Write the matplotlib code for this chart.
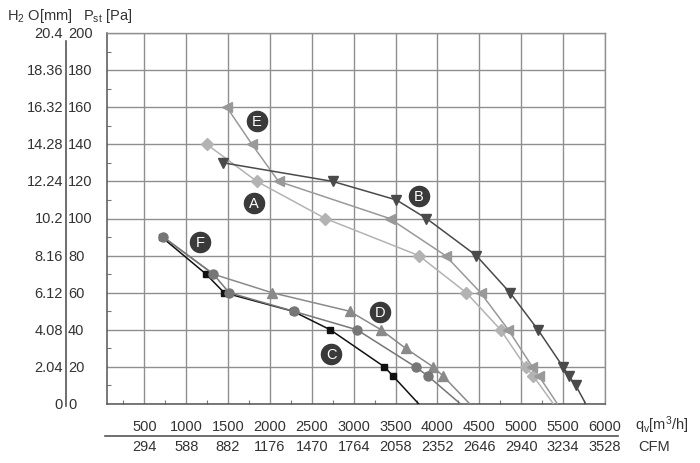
import matplotlib
matplotlib.use("Agg")
import matplotlib.pyplot as plt
from matplotlib.lines import Line2D

plt.rcParams['font.family'] = ['Liberation Sans', 'DejaVu Sans']
plt.rcParams['mathtext.fontset'] = 'custom'
plt.rcParams['mathtext.rm'] = 'Liberation Sans'
plt.rcParams['mathtext.it'] = 'Liberation Sans'

# flow ticks (m3/h) and matching CFM
qv_ticks = [500, 1000, 1500, 2000, 2500, 3000, 3500, 4000, 4500, 5000, 5500, 6000]
cfm_labels = ["294", "588", "882", "1176", "1470", "1764", "2058", "2352",
              "2646", "2940", "3234", "3528"]
pa_ticks = [0, 20, 40, 60, 80, 100, 120, 140, 160, 180, 200]
h2o_labels = ["0", "2.04", "4.08", "6.12", "8.16", "10.2", "12.24", "14.28",
              "16.32", "18.36", "20.4"]

# fan curves
A_q = [1246, 1844, 2661, 3778, 4344, 4754, 5053, 5145, 5385]
A_p = [140, 120, 100, 80, 60, 40, 20, 15, 0]

E_q = [1485, 1785, 2103, 3430, 4096, 4515, 4846, 5133, 5212, 5433]
E_p = [160, 140, 120, 100, 80, 60, 40, 20, 15, 0]

B_q = [1445, 2749, 3510, 3869, 4464, 4866, 5200, 5499, 5571, 5651, 5771]
B_p = [130, 120, 110, 100, 80, 60, 40, 20, 15, 10, 0]

C_q = [708, 1238, 1453, 2275, 2721, 3367, 3471, 3777]
C_p = [90, 70, 60, 50, 40, 20, 15, 0]

F_q = [727, 1325, 1513, 2282, 3040, 3738, 3889, 4276]
F_p = [90, 70, 60, 50, 40, 20, 15, 0]

D_q = [727, 1325, 2024, 2952, 3327, 3620, 3949, 4069, 4387]
D_p = [90, 70, 60, 50, 40, 30, 20, 15, 0]

badge_names = ["E", "A", "B", "D", "C", "F"]
badge_q = [1844, 1812, 3777, 3311, 2733, 1166]
badge_p = [152.5, 108.2, 112.3, 49.4, 27.0, 87.2]

txt = "#333333"
grid_c = "#8f8f8f"
fs = 10.5

fig = plt.figure(figsize=(7, 4.64), dpi=100)
ax = fig.add_axes([107 / 700, 1 - 405 / 464, 498 / 700, 371 / 464])
ax.set_xlim(55, 6000)
ax.set_ylim(0, 200)

ax.set_xticks(qv_ticks)
ax.set_yticks(pa_ticks)
ax.set_xticks([250 + 500 * k for k in range(12)], minor=True)
ax.set_yticks([10 + 20 * k for k in range(10)], minor=True)
ax.tick_params(which="major", length=0, labelbottom=False, labelleft=False)
ax.tick_params(which="minor", direction="in", length=3, width=0.8, color="#777777")
ax.grid(True, which="major", color=grid_c, lw=1.0)
ax.set_axisbelow(True)
for s in ["top", "right"]:
    ax.spines[s].set_color(grid_c)
    ax.spines[s].set_linewidth(1.0)
for s in ["left", "bottom"]:
    ax.spines[s].set_color("#555555")
    ax.spines[s].set_linewidth(1.1)


def curve(q, p, color, marker, ms, start=0, z=3):
    ax.plot(q, p, color=color, lw=1.1, zorder=z)
    ax.plot(q[start:-1], p[start:-1], ls="none", marker=marker, ms=ms,
            color=color, zorder=z + 0.5)


curve(A_q, A_p, "#b3b3b3", "D", 6)
curve(E_q, E_p, "#999999", "<", 6.5)
curve(B_q, B_p, "#4a4a4a", "v", 6.5)
curve(C_q, C_p, "#111111", "s", 4.5, z=4)
curve(D_q, D_p, "#8a8a8a", "^", 6.5, start=2)
curve(F_q, F_p, "#767676", "o", 6.5, z=5)

ax.scatter(badge_q, badge_p, s=210, color="#3a3a3a", zorder=6, clip_on=False)
for name, q, p in zip(badge_names, badge_q, badge_p):
    ax.text(q, p, name, color="white", fontsize=10.5, ha="center", va="center",
            zorder=7)

# left axis label columns
ytr = ax.get_yaxis_transform()
for p, h in zip(pa_ticks, h2o_labels):
    ax.text(-0.0783, p, str(p), transform=ytr, ha="left", va="center",
            fontsize=fs, color=txt)
    ax.text(-0.0884, p, h, transform=ytr, ha="right", va="center",
            fontsize=fs, color=txt)
fig.add_artist(Line2D([66 / 700, 66 / 700], [1 - 42 / 464, 1 - 407 / 464],
                      transform=fig.transFigure, color="#555555", lw=1.2))
fig.text(7 / 700, 1 - 16 / 464, "H$_2$ O[mm]", fontsize=fs, color=txt,
         ha="left", va="center")
fig.text(83 / 700, 1 - 16 / 464, "P$_{st}$ [Pa]", fontsize=fs, color=txt,
         ha="left", va="center")

# bottom label rows
xtr = ax.get_xaxis_transform()
for q, c in zip(qv_ticks, cfm_labels):
    ax.text(q, -0.058, str(q), transform=xtr, ha="center", va="center",
            fontsize=fs, color=txt)
    ax.text(q, -0.112, c, transform=xtr, ha="center", va="center",
            fontsize=fs, color=txt)
fig.add_artist(Line2D([105 / 700, 618 / 700], [1 - 436.7 / 464] * 2,
                      transform=fig.transFigure, color="#555555", lw=1.2))
fig.text(635 / 700, 1 - 425 / 464, "q$_\\mathrm{v}$[m$^3$/h]", fontsize=fs,
         color=txt, ha="left", va="center")
fig.text(638 / 700, 1 - 447 / 464, "CFM", fontsize=fs, color=txt,
         ha="left", va="center")

fig.savefig("out.png", dpi=100)
